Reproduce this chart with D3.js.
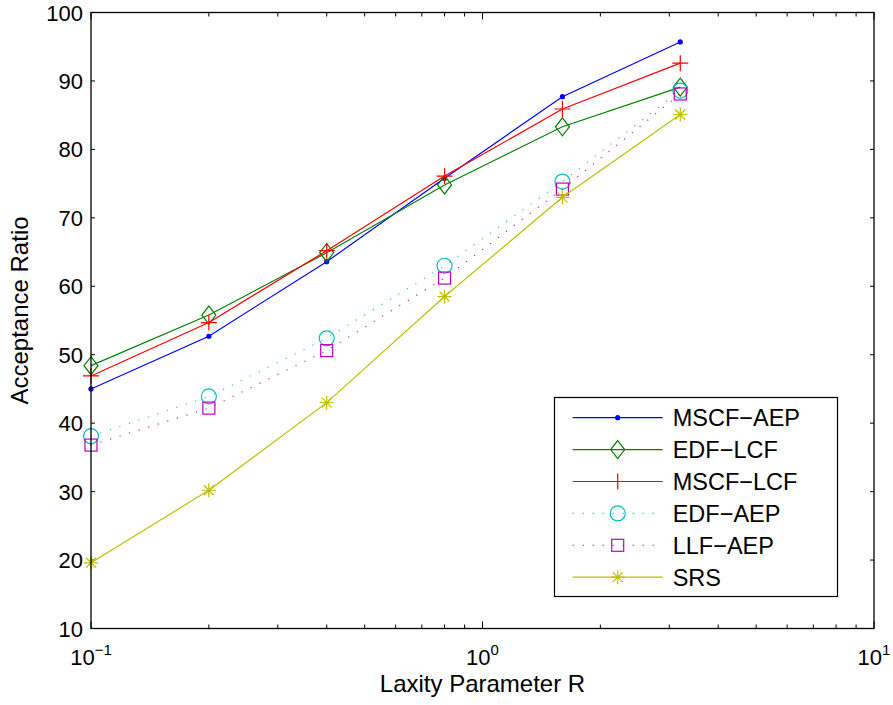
<!DOCTYPE html>
<html>
<head>
<meta charset="utf-8">
<script src="https://cdn.jsdelivr.net/npm/d3@7"></script>
<style>
  body { margin: 0; background: #fff; }
  text { font-family: Arial, "Liberation Sans", sans-serif; fill: #000; }
</style>
</head>
<body>
<div id="viz"></div>
<script>
// laxity values (log x axis)
var laxity = [0.1, 0.2, 0.4, 0.8, 1.6, 3.2];

var mscfAep = [45.0, 52.7, 63.6, 75.8, 87.7, 95.7];
var edfLcf  = [48.4, 55.8, 64.9, 74.8, 83.3, 89.1];
var mscfLcf = [46.9, 54.7, 65.2, 76.1, 85.9, 92.6];
var edfAep  = [38.1, 43.9, 52.4, 63.0, 75.3, 88.6];
var llfAep  = [36.8, 42.2, 50.6, 61.2, 74.2, 88.1];
var srs     = [19.6, 30.2, 43.0, 58.5, 73.0, 85.1];

var seriesNames = ['MSCF\u2212AEP', 'EDF\u2212LCF', 'MSCF\u2212LCF', 'EDF\u2212AEP', 'LLF\u2212AEP', 'SRS'];
var yTicks = [10, 20, 30, 40, 50, 60, 70, 80, 90, 100];
var xDecades = [0.1, 1, 10];
var xExponents = ['\u22121', '0', '1'];

var series = [
  { name: seriesNames[0], values: mscfAep, color: '#0000ff', marker: 'dot',     dash: null },
  { name: seriesNames[1], values: edfLcf,  color: '#008000', marker: 'diamond', dash: null },
  { name: seriesNames[2], values: mscfLcf, color: '#ff0000', marker: 'plus',    dash: null },
  { name: seriesNames[3], values: edfAep,  color: '#00bfbf', marker: 'circle',  dash: '1,9' },
  { name: seriesNames[4], values: llfAep,  color: '#bf00bf', marker: 'square',  dash: '1,9' },
  { name: seriesNames[5], values: srs,     color: '#bfbf00', marker: 'star',    dash: null }
];

var W = 893, H = 705;
var pLeft = 91, pRight = 874, pTop = 12.5, pBottom = 628.5;

var x = d3.scaleLog().domain([0.1, 10]).range([pLeft, pRight]);
var y = d3.scaleLinear().domain([10, 100]).range([pBottom, pTop]);

var svg = d3.select('#viz')
  .append('svg')
  .attr('width', W)
  .attr('height', H);

// minor ticks for log axis
var minor = [];
[0.1, 1].forEach(function(d) {
  for (var k = 2; k <= 9; k++) minor.push(d * k);
});

var ticks = svg.append('g').attr('stroke', '#000').attr('stroke-width', 1);

// x ticks, bottom and top, pointing inward
xDecades.forEach(function(d) {
  ticks.append('line').attr('x1', x(d)).attr('x2', x(d)).attr('y1', pBottom).attr('y2', pBottom - 7);
  ticks.append('line').attr('x1', x(d)).attr('x2', x(d)).attr('y1', pTop).attr('y2', pTop + 7);
});
minor.forEach(function(d) {
  ticks.append('line').attr('x1', x(d)).attr('x2', x(d)).attr('y1', pBottom).attr('y2', pBottom - 4);
  ticks.append('line').attr('x1', x(d)).attr('x2', x(d)).attr('y1', pTop).attr('y2', pTop + 4);
});
yTicks.forEach(function(d) {
  ticks.append('line').attr('x1', pLeft).attr('x2', pLeft + 4).attr('y1', y(d)).attr('y2', y(d));
  ticks.append('line').attr('x1', pRight).attr('x2', pRight - 4).attr('y1', y(d)).attr('y2', y(d));
});

// y tick labels
svg.selectAll('.ylab')
  .data(yTicks)
  .enter()
  .append('text')
  .attr('class', 'ylab')
  .attr('x', pLeft - 8)
  .attr('y', function(d) { return y(d) + 8; })
  .attr('text-anchor', 'end')
  .style('font-size', '22px')
  .text(function(d) { return d; });

// x tick labels 10^n
var xl = svg.selectAll('.xlab')
  .data(xDecades)
  .enter()
  .append('text')
  .attr('class', 'xlab')
  .attr('x', function(d) { return x(d); })
  .attr('y', 665)
  .attr('text-anchor', 'middle')
  .style('font-size', '22px');
xl.append('tspan').text('10');
xl.append('tspan')
  .attr('dy', -10)
  .style('font-size', '15px')
  .text(function(d, i) { return xExponents[i]; });

// axis labels
svg.append('text')
  .attr('x', (pLeft + pRight) / 2)
  .attr('y', 692)
  .attr('text-anchor', 'middle')
  .style('font-size', '24px')
  .text('Laxity Parameter R');

svg.append('text')
  .attr('transform', 'translate(28,' + ((pTop + pBottom) / 2 - 10) + ') rotate(-90)')
  .attr('text-anchor', 'middle')
  .style('font-size', '24px')
  .text('Acceptance Ratio');

// markers
function drawMarker(g, type, color, cx, cy) {
  if (type === 'dot') {
    g.append('circle').attr('cx', cx).attr('cy', cy).attr('r', 2.6).attr('fill', color);
  } else if (type === 'diamond') {
    g.append('path')
      .attr('d', 'M' + cx + ',' + (cy - 9) + 'L' + (cx + 7) + ',' + cy + 'L' + cx + ',' + (cy + 9) + 'L' + (cx - 7) + ',' + cy + 'Z')
      .attr('fill', 'none').attr('stroke', color).attr('stroke-width', 1.2);
  } else if (type === 'plus') {
    g.append('path')
      .attr('d', 'M' + (cx - 8) + ',' + cy + 'H' + (cx + 8) + 'M' + cx + ',' + (cy - 8) + 'V' + (cy + 8))
      .attr('stroke', color).attr('stroke-width', 1.2);
  } else if (type === 'circle') {
    g.append('circle').attr('cx', cx).attr('cy', cy).attr('r', 7.5)
      .attr('fill', 'none').attr('stroke', color).attr('stroke-width', 1.2);
  } else if (type === 'square') {
    g.append('rect').attr('x', cx - 6).attr('y', cy - 6).attr('width', 12).attr('height', 12)
      .attr('fill', 'none').attr('stroke', color).attr('stroke-width', 1.2);
  } else if (type === 'star') {
    var r = 7, q = 5;
    g.append('path')
      .attr('d', 'M' + (cx - r) + ',' + cy + 'H' + (cx + r) + 'M' + cx + ',' + (cy - r) + 'V' + (cy + r) +
        'M' + (cx - q) + ',' + (cy - q) + 'L' + (cx + q) + ',' + (cy + q) +
        'M' + (cx - q) + ',' + (cy + q) + 'L' + (cx + q) + ',' + (cy - q))
      .attr('stroke', color).attr('stroke-width', 1.2);
  }
}

var line = d3.line()
  .x(function(d, i) { return x(laxity[i]); })
  .y(function(d) { return y(d); });

var plot = svg.append('g');
series.forEach(function(s) {
  plot.append('path')
    .attr('d', line(s.values))
    .attr('fill', 'none')
    .attr('stroke', s.color)
    .attr('stroke-width', 1.2)
    .attr('stroke-dasharray', s.dash);
  s.values.forEach(function(v, i) {
    drawMarker(plot, s.marker, s.color, x(laxity[i]), y(v));
  });
});

// axes box
svg.append('rect')
  .attr('x', pLeft).attr('y', pTop)
  .attr('width', pRight - pLeft).attr('height', pBottom - pTop)
  .attr('fill', 'none').attr('stroke', '#000').attr('stroke-width', 1.3);

// legend
var lg = svg.append('g');
lg.append('rect')
  .attr('x', 554.5).attr('y', 397.5)
  .attr('width', 283).attr('height', 199)
  .attr('fill', '#fff').attr('stroke', '#000').attr('stroke-width', 1.2);

series.forEach(function(s, i) {
  var ly = 417.7 + i * 31.9;
  lg.append('line')
    .attr('x1', 572.7).attr('x2', 662.7).attr('y1', ly).attr('y2', ly)
    .attr('stroke', s.color).attr('stroke-width', 1.2)
    .attr('stroke-dasharray', s.dash);
  drawMarker(lg, s.marker, s.color, 617.7, ly);
  lg.append('text')
    .attr('x', 672.7).attr('y', ly + 8.5)
    .style('font-size', '23.5px')
    .text(s.name);
});
</script>
</body>
</html>
